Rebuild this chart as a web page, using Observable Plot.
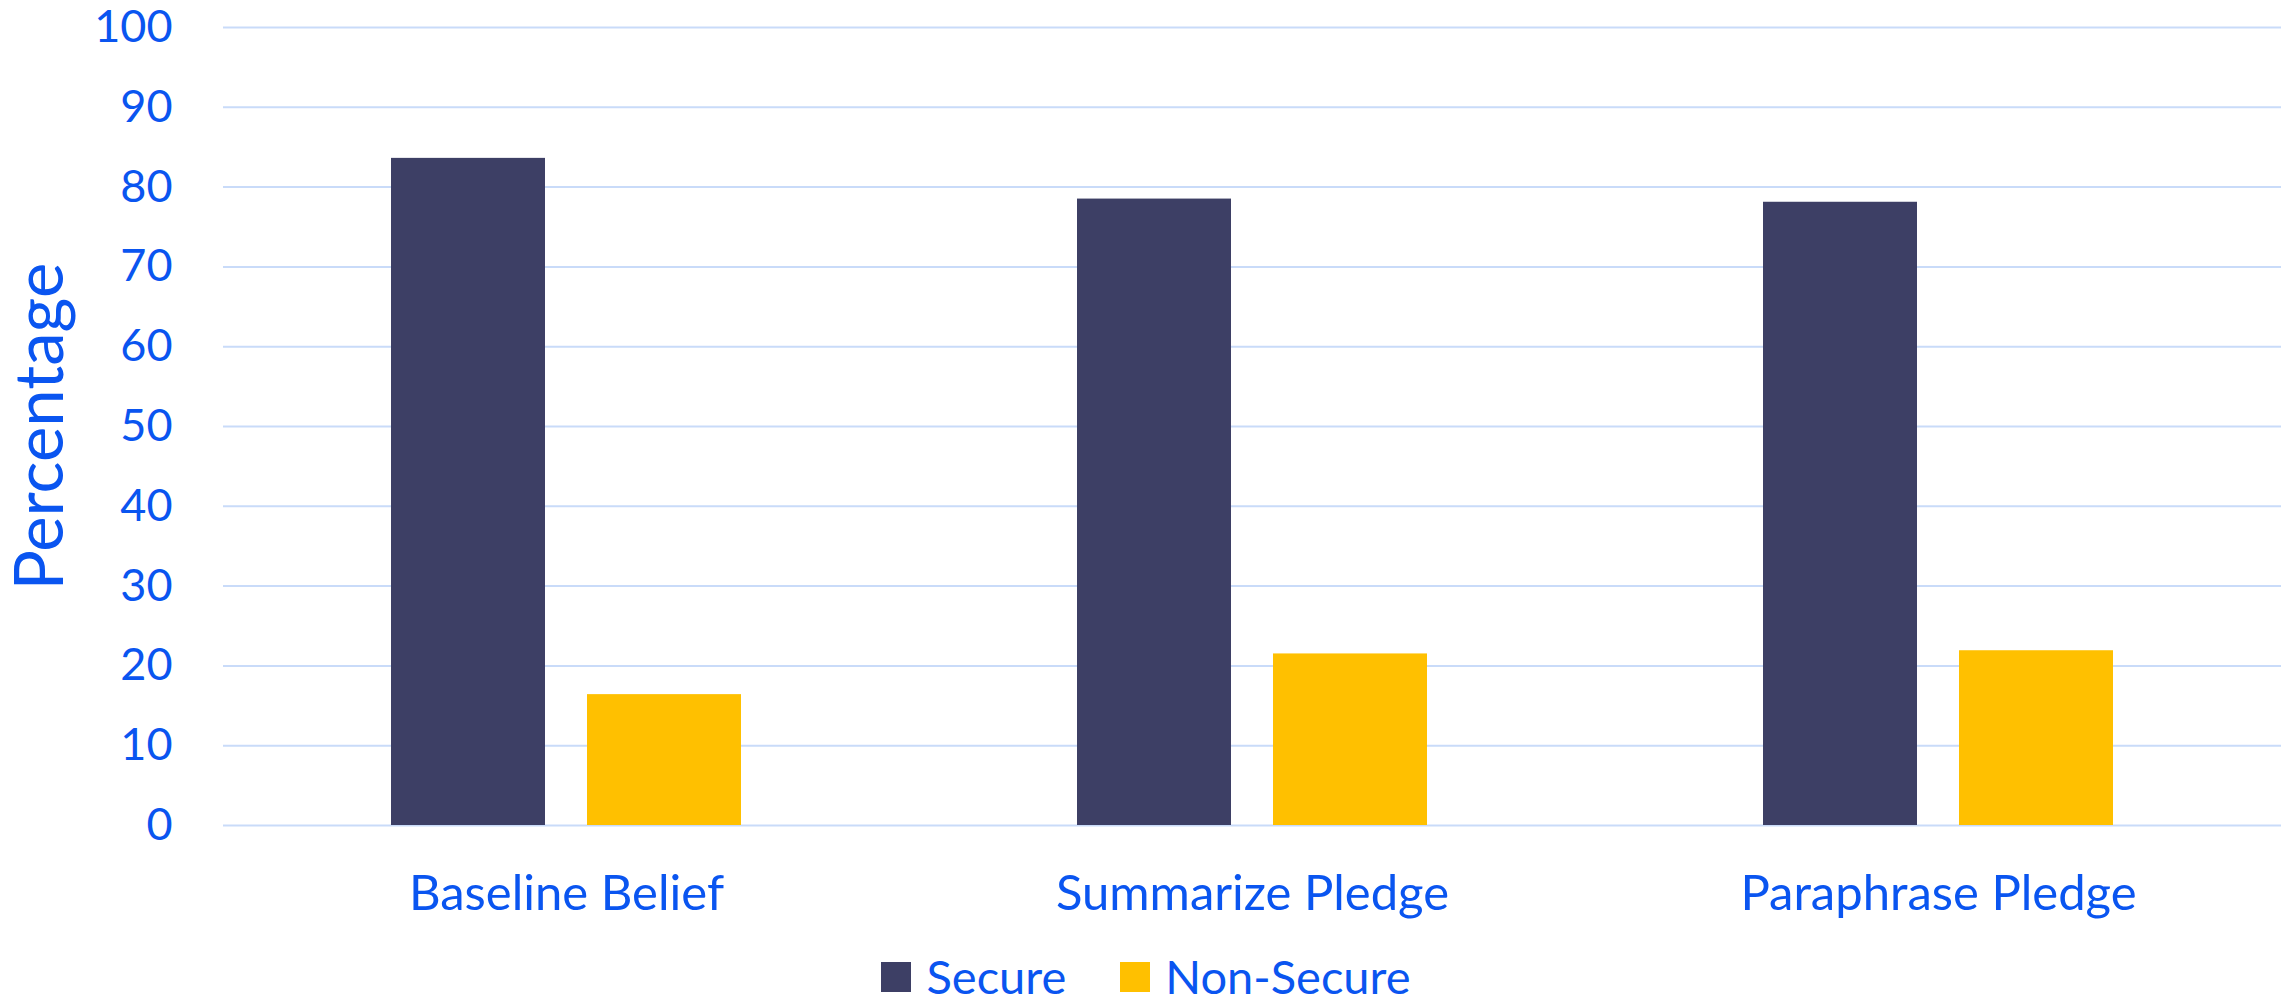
<!DOCTYPE html>
<html>
<head>
<meta charset="utf-8">
<script src="https://cdn.jsdelivr.net/npm/d3@7"></script>
<script src="https://cdn.jsdelivr.net/npm/@observablehq/plot@0.6"></script>
<style>
  html, body { margin: 0; padding: 0; background: #fff; }
  #chart svg { display: block; overflow: visible; }
  #chart g[aria-label="y-axis label"] text { font-size: 67px; }
  #legend { width: 2292px; height: 73px; box-sizing: border-box; padding-top: 20px;
            display: flex; justify-content: center; align-items: center; line-height: 1; }
  #legend .lg-swatches { margin: 0; min-height: 0; line-height: 1; }
  #legend .lg-swatch > svg { margin-right: 15px !important; }
  #legend .lg-swatch { margin-right: 0 !important; }
  #legend .lg-swatch + .lg-swatch { margin-left: 54px; }
</style>
</head>
<body>
<div id="chart"></div>
<div id="legend"></div>
<script>
const categories = ["Baseline Belief", "Summarize Pledge", "Paraphrase Pledge"];
const series = ["Secure", "Non-Secure"];
const secureValues = [83.6, 78.5, 78.1];
const nonSecureValues = [16.4, 21.5, 21.9];
const yTicks = [0, 10, 20, 30, 40, 50, 60, 70, 80, 90, 100];
const seriesColors = ["#3d3f65", "#ffc000"];

const data = categories.flatMap((c, i) => [
  {category: c, series: "Secure", value: secureValues[i]},
  {category: c, series: "Non-Secure", value: nonSecureValues[i]}
]);

const textColor = "#0a55f0";

const plot = Plot.plot({
  width: 2292,
  height: 930,
  marginLeft: 223,
  marginRight: 11,
  marginTop: 27,
  marginBottom: 105,
  style: {fontFamily: "Lato, 'Open Sans', sans-serif", fontSize: "45px", color: textColor, background: "#fff"},
  fx: {domain: categories, padding: 0, label: null, axis: null},
  x: {domain: series, paddingInner: 0.214, paddingOuter: 0.857, axis: null},
  y: {domain: [0, 100], label: null, axis: null},
  color: {domain: series, range: seriesColors},
  marks: [
    Plot.ruleY(yTicks, {stroke: "#c9dbf9", strokeWidth: 2}),
    Plot.barY(data, {fx: "category", x: "series", y: "value", fill: "series"}),
    Plot.axisY({ticks: yTicks, tickSize: 0, tickPadding: 51, fontSize: 45, label: "Percentage", labelArrow: "none", labelAnchor: "center", labelOffset: 208}),
    Plot.axisFx({anchor: "bottom", tickSize: 0, tickPadding: 50, fontSize: 49, label: null})
  ]
});
document.getElementById("chart").appendChild(plot);

const legend = Plot.legend({
  color: {domain: series, range: seriesColors},
  swatchSize: 30,
  className: "lg",
  style: {fontFamily: "Lato, 'Open Sans', sans-serif", fontSize: "47px", color: textColor}
});
document.getElementById("legend").appendChild(legend);
</script>
</body>
</html>
